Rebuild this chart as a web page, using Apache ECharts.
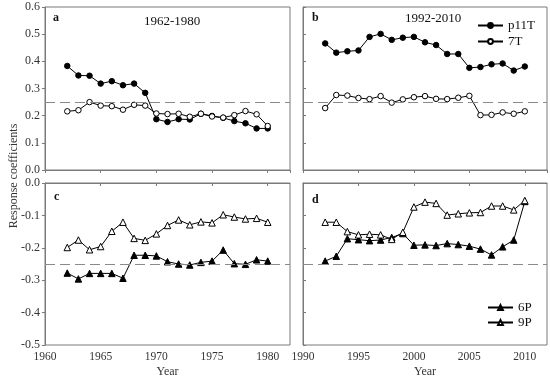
<!DOCTYPE html>
<html>
<head>
<meta charset="utf-8">
<script src="https://cdn.jsdelivr.net/npm/echarts@6/dist/echarts.min.js"></script>
<style>html,body{margin:0;padding:0;background:#fff}#c{width:550px;height:380px}</style>
</head>
<body>
<div id="c"></div>
<script>
// ---- data ----
const yearsA = [1962,1963,1964,1965,1966,1967,1968,1969,1970,1971,1972,1973,1974,1975,1976,1977,1978,1979,1980];
const yearsB = [1992,1993,1994,1995,1996,1997,1998,1999,2000,2001,2002,2003,2004,2005,2006,2007,2008,2009,2010];

const p11T_a = [0.383,0.348,0.347,0.318,0.327,0.312,0.318,0.284,0.187,0.177,0.187,0.186,0.207,0.199,0.192,0.180,0.172,0.153,0.153];
const t7_a   = [0.216,0.220,0.250,0.237,0.235,0.222,0.240,0.237,0.208,0.206,0.207,0.196,0.207,0.197,0.193,0.202,0.217,0.205,0.162];
const p11T_b = [0.466,0.432,0.437,0.440,0.490,0.501,0.479,0.487,0.490,0.470,0.460,0.427,0.427,0.376,0.379,0.389,0.392,0.366,0.381];
const t7_b   = [0.228,0.276,0.274,0.265,0.261,0.272,0.248,0.260,0.268,0.272,0.262,0.261,0.266,0.273,0.202,0.203,0.212,0.207,0.216];

const p6_c = [-0.278,-0.296,-0.279,-0.279,-0.279,-0.294,-0.223,-0.223,-0.225,-0.243,-0.250,-0.253,-0.245,-0.241,-0.207,-0.249,-0.251,-0.237,-0.241];
const p9_c = [-0.199,-0.176,-0.206,-0.196,-0.149,-0.121,-0.171,-0.177,-0.157,-0.131,-0.114,-0.129,-0.120,-0.123,-0.098,-0.105,-0.111,-0.109,-0.121];
const p6_d = [-0.241,-0.226,-0.172,-0.175,-0.178,-0.176,-0.168,-0.156,-0.192,-0.191,-0.193,-0.187,-0.190,-0.195,-0.204,-0.222,-0.197,-0.176,-0.057];
const p9_d = [-0.121,-0.121,-0.150,-0.160,-0.158,-0.160,-0.174,-0.152,-0.074,-0.059,-0.063,-0.099,-0.095,-0.092,-0.091,-0.071,-0.071,-0.083,-0.054];

const refLevels = [0.25, -0.25];
const panelLetters = ['a','b','c','d'];
const periodLabels = ['1962-1980','1992-2010'];
const legendTop = ['p11T','7T'];
const legendBottom = ['6P','9P'];
const yName = 'Response coefficients';
const xName = 'Year';

// ---- chart ----
const FONT = '"Liberation Serif","DejaVu Serif",serif';
const AX = '#7a7a7a';
const pair = (xs, ys) => xs.map((x, i) => [x, ys[i]]);

const grids = [
  {left: 45, top: 7, width: 245, height: 163},
  {left: 303, top: 7, width: 244, height: 163},
  {left: 45, top: 183, width: 245, height: 162},
  {left: 303, top: 183, width: 244, height: 162}
].map(g => Object.assign({show: true, borderColor: AX, borderWidth: 1, containLabel: false}, g));

function xAxis(i, min, max, labels) {
  return {
    type: 'value', gridIndex: i, min: min, max: max, interval: 5,
    axisLine: {show: true, lineStyle: {color: AX}},
    axisTick: {show: true, length: 3, lineStyle: {color: AX}},
    axisLabel: {show: labels, color: '#333', fontFamily: FONT, fontSize: 11.5, margin: 6,
      formatter: v => String(v)},
    splitLine: {show: false},
    name: labels ? xName : '', nameLocation: 'middle', nameGap: 21,
    nameTextStyle: {color: '#333', fontFamily: FONT, fontSize: 12}
  };
}
function yAxis(i, min, max, labels) {
  return {
    type: 'value', gridIndex: i, min: min, max: max, interval: 0.1,
    axisLine: {show: true, lineStyle: {color: AX}},
    axisTick: {show: true, length: 3, inside: !labels, lineStyle: {color: AX}},
    axisLabel: {show: labels, color: '#333', fontFamily: FONT, fontSize: 12, margin: 5,
      formatter: v => (Math.abs(v) < 1e-9 ? 0 : v).toFixed(1)},
    splitLine: {show: false}
  };
}

const lineBase = {
  type: 'line', silent: true, animation: false,
  lineStyle: {color: '#000', width: 1},
  emphasis: {disabled: true}
};
function filledCircle(name, idx, data) {
  return Object.assign({}, lineBase, {name, xAxisIndex: idx, yAxisIndex: idx, data,
    symbol: 'circle', symbolSize: 5.5, z: 3,
    itemStyle: {color: '#000', borderColor: '#000', borderWidth: 1}});
}
function openCircle(name, idx, data) {
  return Object.assign({}, lineBase, {name, xAxisIndex: idx, yAxisIndex: idx, data,
    symbol: 'circle', symbolSize: 5.5, z: 4,
    itemStyle: {color: '#fff', borderColor: '#000', borderWidth: 1}});
}
function filledTri(name, idx, data) {
  return Object.assign({}, lineBase, {name, xAxisIndex: idx, yAxisIndex: idx, data,
    symbol: 'triangle', symbolSize: 6.5, z: 3,
    itemStyle: {color: '#000', borderColor: '#000', borderWidth: 1}});
}
function openTri(name, idx, data) {
  return Object.assign({}, lineBase, {name, xAxisIndex: idx, yAxisIndex: idx, data,
    symbol: 'triangle', symbolSize: 6.5, z: 4,
    itemStyle: {color: '#fff', borderColor: '#000', borderWidth: 1}});
}
function refLine(idx, level) {
  return {type: 'line', xAxisIndex: idx, yAxisIndex: idx, data: [], silent: true, z: 1,
    markLine: {silent: true, symbol: ['none','none'], animation: false,
      label: {show: false},
      lineStyle: {color: '#8a8a8a', type: [10, 5], width: 1.2},
      data: [{yAxis: level}]}};
}

const titleText = (txt, x, y, bold, size) => ({
  type: 'text', left: x, top: y,
  style: {text: txt, font: (bold ? 'bold ' : '') + size + 'px ' + FONT, fill: '#111'}
});

const option = {
  animation: false,
  backgroundColor: '#fff',
  grid: grids,
  xAxis: [xAxis(0,1960,1982,false), xAxis(1,1990,2012,false), xAxis(2,1960,1982,true), xAxis(3,1990,2012,true)],
  yAxis: [yAxis(0,0,0.6,true), yAxis(1,0,0.6,false), yAxis(2,-0.5,0,true), yAxis(3,-0.5,0,false)],
  legend: [
    {data: legendTop, orient: 'vertical', left: 477, top: 19, padding: 0, itemGap: 3,
      itemWidth: 25, itemHeight: 6, textStyle: {fontFamily: FONT, fontSize: 13, color: '#111'},
      selectedMode: false},
    {data: legendBottom, orient: 'vertical', left: 487, top: 301, padding: 0, itemGap: 2,
      itemWidth: 25, itemHeight: 6, textStyle: {fontFamily: FONT, fontSize: 13, color: '#111'},
      selectedMode: false}
  ],
  graphic: [
    titleText(panelLetters[0], 53, 12, true, 12),
    titleText(panelLetters[1], 312, 12, true, 12),
    titleText(panelLetters[2], 54, 191, true, 12),
    titleText(panelLetters[3], 312, 194, true, 12),
    {type: 'text', left: 144, top: 15, style: {text: periodLabels[0], font: '13px ' + FONT, fill: '#111'}},
    {type: 'text', left: 405, top: 12, style: {text: periodLabels[1], font: '13px ' + FONT, fill: '#111'}},
    {type: 'text', x: 14, y: 176, rotation: Math.PI / 2,
      style: {text: yName, font: '12px ' + FONT, fill: '#333', align: 'center', verticalAlign: 'middle'}}
  ],
  series: [
    refLine(0, refLevels[0]), refLine(1, refLevels[0]), refLine(2, refLevels[1]), refLine(3, refLevels[1]),
    filledCircle(legendTop[0], 0, pair(yearsA, p11T_a)),
    openCircle(legendTop[1], 0, pair(yearsA, t7_a)),
    filledCircle(legendTop[0], 1, pair(yearsB, p11T_b)),
    openCircle(legendTop[1], 1, pair(yearsB, t7_b)),
    filledTri(legendBottom[0], 2, pair(yearsA, p6_c)),
    openTri(legendBottom[1], 2, pair(yearsA, p9_c)),
    filledTri(legendBottom[0], 3, pair(yearsB, p6_d)),
    openTri(legendBottom[1], 3, pair(yearsB, p9_d))
  ]
};

const chart = echarts.init(document.getElementById('c'), null, {renderer: 'canvas'});
chart.setOption(option);
</script>
</body>
</html>
